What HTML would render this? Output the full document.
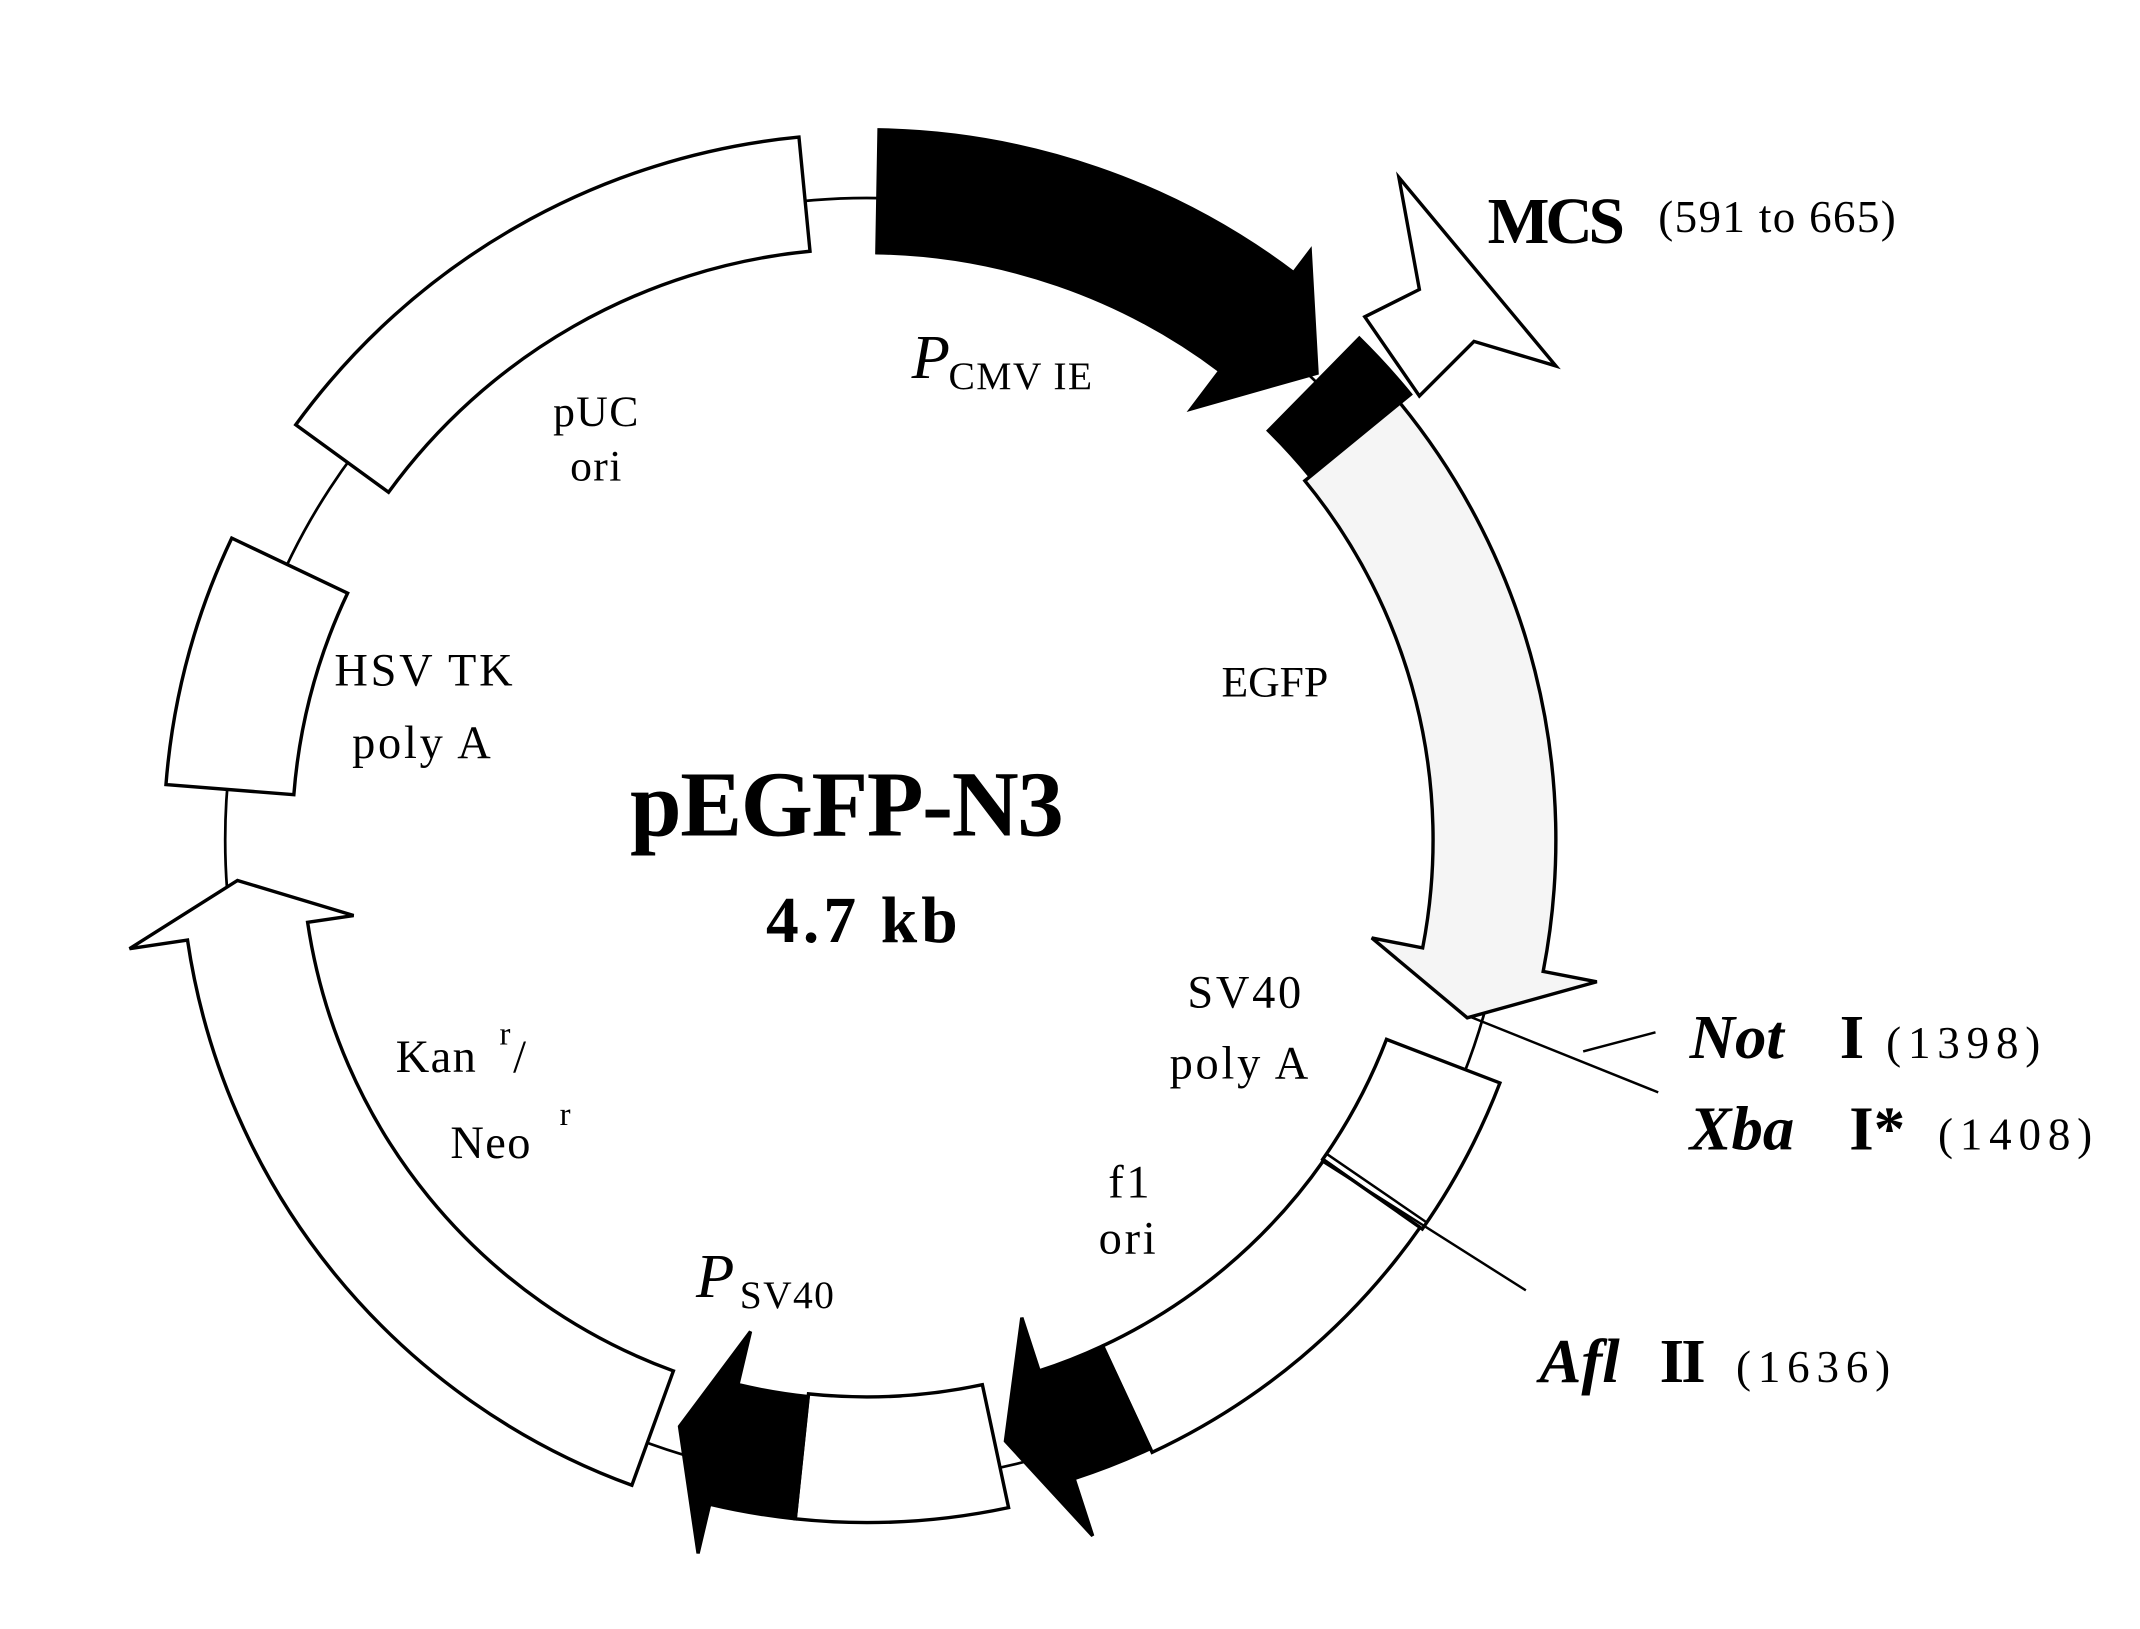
<!DOCTYPE html>
<html><head><meta charset="utf-8"><style>
html,body{margin:0;padding:0;background:#fff;}
svg{display:block;}
text{font-family:"Liberation Serif",serif;fill:#000;}
</style></head><body>
<svg id="s" width="2140" height="1629" viewBox="0 0 1568 1193" preserveAspectRatio="none" xmlns="http://www.w3.org/2000/svg">
<rect width="1568" height="1193" fill="#fff"/>
<circle cx="635" cy="615" r="470" fill="none" stroke="#000" stroke-width="2"/>
<g id="feat"></g>
<polygon points="1025,130 1140,268 1080,250 1040,290 1000,232 1040,212" fill="#fff" stroke="#000" stroke-width="2.5"/>
<g stroke="#000" stroke-width="1.8">
<line x1="1078" y1="745" x2="1215" y2="800"/>
<line x1="1160" y1="770" x2="1213" y2="756"/>
<line x1="968" y1="850" x2="1118" y2="945"/>
<line x1="972" y1="845" x2="1045" y2="895"/>
</g>
<text x="1090" y="178" font-size="48" font-weight="bold" letter-spacing="-3">MCS</text>
<text x="1215" y="170" font-size="33" letter-spacing="1">(591 to 665)</text>
<text x="668" y="277" font-size="46" font-style="italic">P</text>
<text x="695" y="285" font-size="29" letter-spacing="1">CMV IE</text>
<text x="437" y="312" font-size="32" text-anchor="middle" letter-spacing="1">pUC</text>
<text x="437" y="352" font-size="32" text-anchor="middle" letter-spacing="1">ori</text>
<text x="245" y="502" font-size="34" letter-spacing="2">HSV TK</text>
<text x="258" y="555" font-size="34" letter-spacing="2">poly A</text>
<text x="895" y="510" font-size="32">EGFP</text>
<text x="620" y="612" font-size="68" font-weight="bold" text-anchor="middle" letter-spacing="-1">pEGFP-N3</text>
<text x="633" y="690" font-size="48" font-weight="bold" text-anchor="middle" letter-spacing="3">4.7 kb</text>
<text x="870" y="738" font-size="34" letter-spacing="2">SV40</text>
<text x="857" y="790" font-size="34" letter-spacing="2">poly A</text>
<text x="290" y="785" font-size="34" letter-spacing="1">Kan</text><text x="366" y="765" font-size="24">r</text><text x="376" y="785" font-size="34">/</text>
<text x="330" y="848" font-size="34" letter-spacing="1">Neo</text><text x="410" y="824" font-size="24">r</text>
<text x="812" y="877" font-size="34" letter-spacing="2">f1</text>
<text x="805" y="918" font-size="34" letter-spacing="2">ori</text>
<text x="510" y="950" font-size="46" font-style="italic">P</text>
<text x="542" y="958" font-size="29" letter-spacing="1">SV40</text>
<text x="1238" y="775" font-size="46" font-weight="bold" font-style="italic">Not</text>
<text x="1348" y="775" font-size="46" font-weight="bold">I</text>
<text x="1382" y="775" font-size="33" letter-spacing="5">(1398)</text>
<text x="1238" y="842" font-size="46" font-weight="bold" font-style="italic">Xba</text>
<text x="1355" y="842" font-size="46" font-weight="bold">I*</text>
<text x="1420" y="842" font-size="33" letter-spacing="5">(1408)</text>
<text x="1128" y="1012" font-size="46" font-weight="bold" font-style="italic">Afl</text>
<text x="1216" y="1012" font-size="46" font-weight="bold" letter-spacing="-2">II</text>
<text x="1272" y="1012" font-size="33" letter-spacing="5">(1636)</text>
</svg>
<script>
(function(){
var cx=635,cy=615,NS="http://www.w3.org/2000/svg",g=document.getElementById('feat');
function p(a,r){var t=a*Math.PI/180;return (cx+r*Math.sin(t)).toFixed(1)+","+(cy-r*Math.cos(t)).toFixed(1);}
function band(a1,a2,r1,r2){
 var la=(a2-a1)>180?1:0;
 return "M"+p(a1,r2)+" A"+r2+","+r2+" 0 "+la+" 1 "+p(a2,r2)+" L"+p(a2,r1)+" A"+r1+","+r1+" 0 "+la+" 0 "+p(a1,r1)+" Z";
}
function arrow(a1,a2,r1,r2,h1,h2,tip,rt){
 var la=(a2-a1)>180?1:0;
 return "M"+p(a1,r2)+" A"+r2+","+r2+" 0 "+la+" 1 "+p(a2,r2)+" L"+p(a2,h2)+" L"+p(tip,rt)+" L"+p(a2,h1)+" L"+p(a2,r1)+" A"+r1+","+r1+" 0 "+la+" 0 "+p(a1,r1)+" Z";
}
function add(d,fill){var e=document.createElementNS(NS,"path");e.setAttribute("d",d);e.setAttribute("fill",fill);e.setAttribute("stroke","#000");e.setAttribute("stroke-width","2.5");e.setAttribute("stroke-linejoin","miter");g.appendChild(e);}
add(band(306,354.5,433,517),"#fff");
add(band(274.5,295.4,421,515),"#fff");
add(arrow(200,261.6,414,503,380,546,266.3,462),"#fff");
add(band(44.5,50.7,420,515),"#000");
add(arrow(1,37,430,520,395,540,44,475),"#000");
add(arrow(50.7,101,415,505,377,545,106.5,459),"#f5f5f5");
add(band(111,125,408,497),"#fff");
add(band(125,155,409,495),"#fff");
add(arrow(155,162,409,492,368,536,167,452),"#000");
add(band(168,186,408,500),"#fff");
add(arrow(186,193.3,410,500,370,537,197.7,451),"#000");
})();
</script>
</body></html>
